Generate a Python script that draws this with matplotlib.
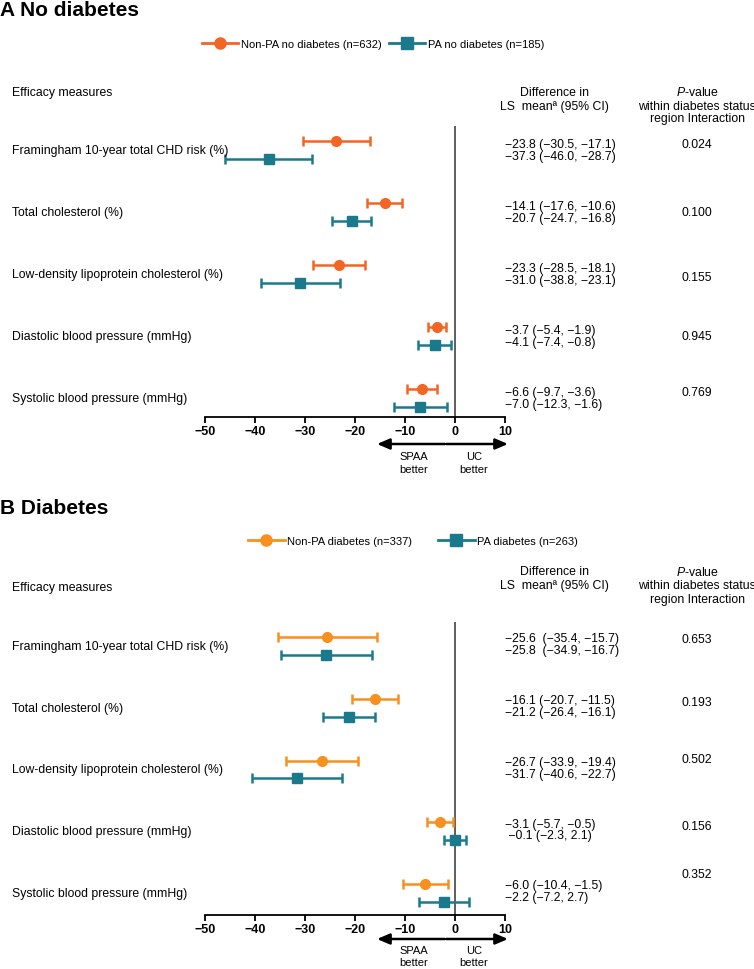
import matplotlib
matplotlib.use("Agg")
import matplotlib.pyplot as plt
from matplotlib.lines import Line2D
from matplotlib.transforms import blended_transform_factory as btf

plt.rcParams['font.family'] = ['Liberation Sans', 'DejaVu Sans']
plt.rcParams['mathtext.fontset'] = 'custom'
plt.rcParams['mathtext.rm'] = 'Liberation Sans'
plt.rcParams['mathtext.it'] = 'Liberation Sans:italic'

# ---------------- data ----------------
measures = ["Framingham 10-year total CHD risk (%)", "Total cholesterol (%)",
            "Low-density lipoprotein cholesterol (%)", "Diastolic blood pressure (mmHg)",
            "Systolic blood pressure (mmHg)"]
xticks = [-50, -40, -30, -20, -10, 0, 10]

A_nonpa_mean = [-23.8, -14.1, -23.3, -3.7, -6.6]
A_nonpa_lo = [-30.5, -17.6, -28.5, -5.4, -9.7]
A_nonpa_hi = [-17.1, -10.6, -18.1, -1.9, -3.6]
A_pa_mean = [-37.3, -20.7, -31.0, -4.1, -7.0]
A_pa_lo = [-46.0, -24.7, -38.8, -7.4, -12.3]
A_pa_hi = [-28.7, -16.8, -23.1, -0.8, -1.6]
A_p = ["0.024", "0.100", "0.155", "0.945", "0.769"]
A_legend = ["Non-PA no diabetes (n=632)", "PA no diabetes (n=185)"]

B_nonpa_mean = [-25.6, -16.1, -26.7, -3.1, -6.0]
B_nonpa_lo = [-35.4, -20.7, -33.9, -5.7, -10.4]
B_nonpa_hi = [-15.7, -11.5, -19.4, -0.5, -1.5]
B_pa_mean = [-25.8, -21.2, -31.7, -0.1, -2.2]
B_pa_lo = [-34.9, -26.4, -40.6, -2.3, -7.2]
B_pa_hi = [-16.7, -16.1, -22.7, 2.1, 2.7]
B_p = ["0.653", "0.193", "0.502", "0.156", "0.352"]
B_legend = ["Non-PA diabetes (n=337)", "PA diabetes (n=263)"]

# ---------------- layout ----------------
W, H = 754, 970
fig = plt.figure(figsize=(W / 100, H / 100), dpi=100)


def fx(px):
    return px / W


def fy(py):
    return 1 - py / H


TEAL = '#1A7A8C'
FS = 8.8


def fmt(m, lo, hi, sep=" ", lead=""):
    s = f"{lead}{m:.1f}{sep}({lo:.1f}, {hi:.1f})"
    return s.replace("-", "\u2212")


def panel(title, title_y, leg_labels, leg_center, leg_y, colspace, orange,
          ax_top, ax_bot, row_unit, hdr_eff_y, hdr_diff_y, hdr_p_y,
          nm, nlo, nhi, pm, plo, phi, pvals, p_dy, txt_c, seps, leads,
          arrow_y, better_y):
    fig.text(fx(0), fy(title_y), title, fontsize=15, fontweight='bold',
             ha='left', va='center')
    handles = [Line2D([], [], color=orange, lw=2, marker='o', markersize=8),
               Line2D([], [], color=TEAL, lw=2, marker='s', markersize=8)]
    fig.legend(handles, leg_labels, loc='center',
               bbox_to_anchor=(fx(leg_center), fy(leg_y)), ncol=2, frameon=False,
               fontsize=8, handlelength=3.3, handletextpad=0.25,
               columnspacing=colspace, borderpad=0, borderaxespad=0)

    # headers
    fig.text(fx(12), fy(hdr_eff_y), "Efficacy measures", fontsize=FS, va='center')
    fig.text(fx(554), fy(hdr_diff_y[0]), "Difference in", fontsize=FS,
             ha='center', va='center')
    fig.text(fx(554), fy(hdr_diff_y[1]), "LS  mean\u00aa (95% CI)",
             fontsize=FS, ha='center', va='center')
    fig.text(fx(697), fy(hdr_p_y[0]), r"$\mathit{P}$-value", fontsize=FS,
             ha='center', va='center')
    fig.text(fx(697), fy(hdr_p_y[1]), "within diabetes status", fontsize=FS,
             ha='center', va='center')
    fig.text(fx(697), fy(hdr_p_y[2]), "region Interaction", fontsize=FS,
             ha='center', va='center')

    n = len(measures)
    top = -(24 / row_unit)
    bot = (n - 1) + (ax_bot - ax_top - 24 - (n - 1) * row_unit) / row_unit
    ax = fig.add_axes([fx(205), fy(ax_bot), fx(505) - fx(205),
                       (ax_bot - ax_top) / H])
    ax.set_xlim(-50, 10)
    ax.set_ylim(bot, top)
    ax.patch.set_alpha(0)
    for s in ['top', 'right', 'left']:
        ax.spines[s].set_visible(False)
    ax.spines['bottom'].set_linewidth(1.3)
    ax.set_yticks([])
    ax.set_xticks(xticks)
    ax.tick_params(axis='x', length=4, width=1.3, pad=1.5, labelsize=9)
    for lab in ax.get_xticklabels():
        lab.set_fontweight('bold')
    ax.axvline(0, color='#333333', lw=1.1)

    rows = list(range(n))
    off = 0.145
    ax.errorbar(nm, [r - off for r in rows],
                xerr=[[m - l for m, l in zip(nm, nlo)], [h - m for m, h in zip(nm, nhi)]],
                fmt='o', color=orange, ms=7, elinewidth=1.8, capsize=3.5,
                capthick=1.8, zorder=3)
    ax.errorbar(pm, [r + off for r in rows],
                xerr=[[m - l for m, l in zip(pm, plo)], [h - m for m, h in zip(pm, phi)]],
                fmt='s', color=TEAL, ms=6.5, elinewidth=1.8, capsize=3.5,
                capthick=1.8, zorder=3)

    tr = btf(fig.transFigure, ax.transData)
    for i, name in enumerate(measures):
        ax.text(fx(12), i, name, transform=tr, fontsize=FS, va='center', ha='left')
        ax.text(fx(505), i + txt_c - 0.095, fmt(nm[i], nlo[i], nhi[i], seps[i]),
                transform=tr, fontsize=FS, va='center', ha='left')
        ax.text(fx(505), i + txt_c + 0.095, fmt(pm[i], plo[i], phi[i], seps[i], leads[i]),
                transform=tr, fontsize=FS, va='center', ha='left')
        ax.text(fx(697), i + p_dy[i], pvals[i], transform=tr, fontsize=FS,
                va='center', ha='center')

    # direction arrows
    ya = fy(arrow_y)
    for tip in (-15.6, 10.6):
        ax.annotate('', xy=(tip, ya), xycoords=('data', 'figure fraction'),
                    xytext=(-1.9, ya), textcoords=('data', 'figure fraction'),
                    arrowprops=dict(arrowstyle='-|>,head_length=0.75,head_width=0.32',
                                    lw=1.8, color='black', shrinkA=0.5, shrinkB=0,
                                    mutation_scale=10),
                    annotation_clip=False)
    trb = btf(ax.transData, fig.transFigure)
    for xc, word in ((-8.2, "SPAA"), (3.8, "UC")):
        ax.text(xc, fy(better_y[0]), word, transform=trb, fontsize=8,
                ha='center', va='center')
        ax.text(xc, fy(better_y[1]), "better", transform=trb, fontsize=8,
                ha='center', va='center')


panel("A No diabetes", 11, A_legend, 373, 45, 0.6, '#F26522',
      127, 418, 62.0, 93, (93, 107), (93, 107, 119),
      A_nonpa_mean, A_nonpa_lo, A_nonpa_hi, A_pa_mean, A_pa_lo, A_pa_hi,
      A_p, [-0.1, 0.0, 0.05, 0.0, -0.1], 0.0, [" "] * 5, [""] * 5,
      445, (457, 470))

panel("B Diabetes", 509, B_legend, 413, 542, 2.3, '#F7901E',
      623, 916, 61.75, 588, (572, 586), (572, 586, 600),
      B_nonpa_mean, B_nonpa_lo, B_nonpa_hi, B_pa_mean, B_pa_lo, B_pa_hi,
      B_p, [-0.11, -0.1, -0.17, -0.08, -0.3], -0.03, ["  ", " ", " ", " ", " "],
      ["", "", "", " ", ""],
      940, (951, 963))

fig.savefig("out.png", dpi=100)
